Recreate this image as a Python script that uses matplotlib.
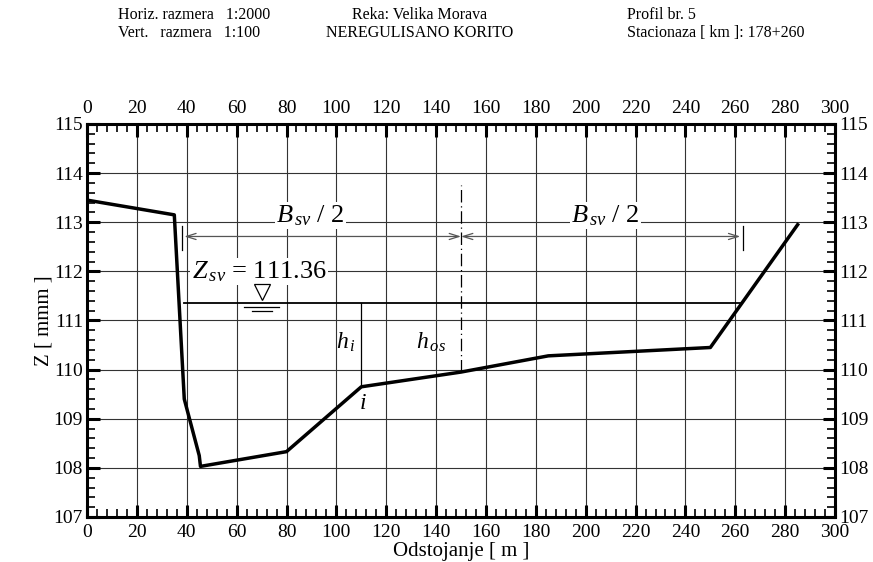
import numpy as np
import matplotlib.pyplot as plt
from matplotlib.ticker import MultipleLocator

# cross-section data
stations = [0, 35, 39, 45, 45.5, 80, 110, 150, 185, 250, 285]
elevations = [113.45, 113.15, 109.4, 108.25, 108.03, 108.33, 109.65, 109.95, 110.28, 110.45, 112.95]
z_sv = 111.36
x_left_water = 39
x_right_water = 262
x_axis_os = 150
x_i = 110

plt.rcParams["font.family"] = ["Liberation Serif", "DejaVu Serif"]
plt.rcParams["mathtext.fontset"] = "custom"
plt.rcParams["mathtext.rm"] = "Liberation Serif"
plt.rcParams["mathtext.it"] = "Liberation Serif:italic"

fig = plt.figure(figsize=(8.73, 5.62), dpi=100)
ax = fig.add_axes([0.0997, 0.0801, 0.8568, 0.6993])

ax.set_xlim(0, 300)
ax.set_ylim(107, 115)
ax.xaxis.set_major_locator(MultipleLocator(20))
ax.xaxis.set_minor_locator(MultipleLocator(4))
ax.yaxis.set_major_locator(MultipleLocator(1))
ax.yaxis.set_minor_locator(MultipleLocator(0.2))
ax.grid(True, which="major", color="#333333", linewidth=0.8)
ax.tick_params(which="both", direction="in", top=True, right=True,
               labeltop=True, labelright=True, labelsize=14, width=1.2)
ax.tick_params(which="major", length=9, width=2.2)
ax.tick_params(which="minor", length=6)
ax.tick_params(axis="x", which="both", pad=5)
ax.tick_params(axis="y", which="both", pad=3)
for s in ax.spines.values():
    s.set_linewidth(2.2)

ax.set_xlabel("Odstojanje [ m ]", fontsize=15, labelpad=1)
ax.set_ylabel("Z [ mmm ]", fontsize=15, labelpad=0)

# profile
ax.plot(stations, elevations, color="black", linewidth=2.5, zorder=5)

# water surface
ax.plot([x_left_water, x_right_water], [z_sv, z_sv], color="black", linewidth=1.3, zorder=4)

# depth lines
z_i = np.interp(x_i, stations, elevations)
ax.plot([x_i, x_i], [z_i, z_sv], color="black", linewidth=0.9, zorder=4)
z_os = np.interp(x_axis_os, stations, elevations)
ax.plot([x_axis_os, x_axis_os], [z_os, 113.75], color="black", linewidth=0.9,
        linestyle=(0, (10, 3, 1, 3)), zorder=4)

# dimension lines B_sv / 2
y_dim = 112.71
for xa, xb in [(x_left_water, x_axis_os), (x_axis_os, x_right_water)]:
    ax.annotate("", xy=(xa, y_dim), xytext=(xb, y_dim),
                arrowprops=dict(arrowstyle="<->,head_length=0.7,head_width=0.22",
                                color="#555555", lw=0.9,
                                shrinkA=0, shrinkB=0),
                zorder=4)
for xt in [x_left_water - 1, x_right_water + 1]:
    ax.plot([xt, xt], [112.43, 112.92], color="black", linewidth=0.9, zorder=4)

bbox = dict(facecolor="white", edgecolor="none", pad=1)
ax.text(89.5, 113.13, r"$B_{\,sv}$ / 2", fontsize=19, ha="center", va="center", bbox=bbox, zorder=6)
ax.text(208, 113.13, r"$B_{\,sv}$ / 2", fontsize=19, ha="center", va="center", bbox=bbox, zorder=6)
ax.text(69, 112.0, r"$Z_{\,sv}$ = 111.36", fontsize=19, ha="center", va="center", bbox=bbox, zorder=6)

# water level symbol
ax.plot([70], [z_sv + 0.21], marker="v", markersize=11, markerfacecolor="white",
        markeredgecolor="black", markeredgewidth=0.9, zorder=6)
ax.plot([63, 77], [z_sv - 0.08, z_sv - 0.08], color="black", linewidth=0.9, zorder=6)
ax.plot([66, 74], [z_sv - 0.16, z_sv - 0.16], color="black", linewidth=0.9, zorder=6)

ax.text(104, 110.55, r"$h_{\,i}$", fontsize=17, ha="center", va="center", zorder=6)
ax.text(138, 110.55, r"$h_{\,os}$", fontsize=17, ha="center", va="center", zorder=6)
ax.text(110.5, 109.32, r"$i$", fontsize=17, ha="center", va="center", zorder=6)

# header
hdr = dict(fontsize=11.5, va="top")
fig.text(118 / 873, 1 - 7 / 562, "Horiz. razmera   1:2000", ha="left", **hdr)
fig.text(118 / 873, 1 - 25 / 562, "Vert.   razmera   1:100", ha="left", **hdr)
fig.text(420 / 873, 1 - 7 / 562, "Reka: Velika Morava", ha="center", **hdr)
fig.text(420 / 873, 1 - 25 / 562, "NEREGULISANO KORITO", ha="center", **hdr)
fig.text(627 / 873, 1 - 7 / 562, "Profil br. 5", ha="left", **hdr)
fig.text(627 / 873, 1 - 25 / 562, "Stacionaza [ km ]: 178+260", ha="left", **hdr)

fig.savefig("out.png", dpi=100)
